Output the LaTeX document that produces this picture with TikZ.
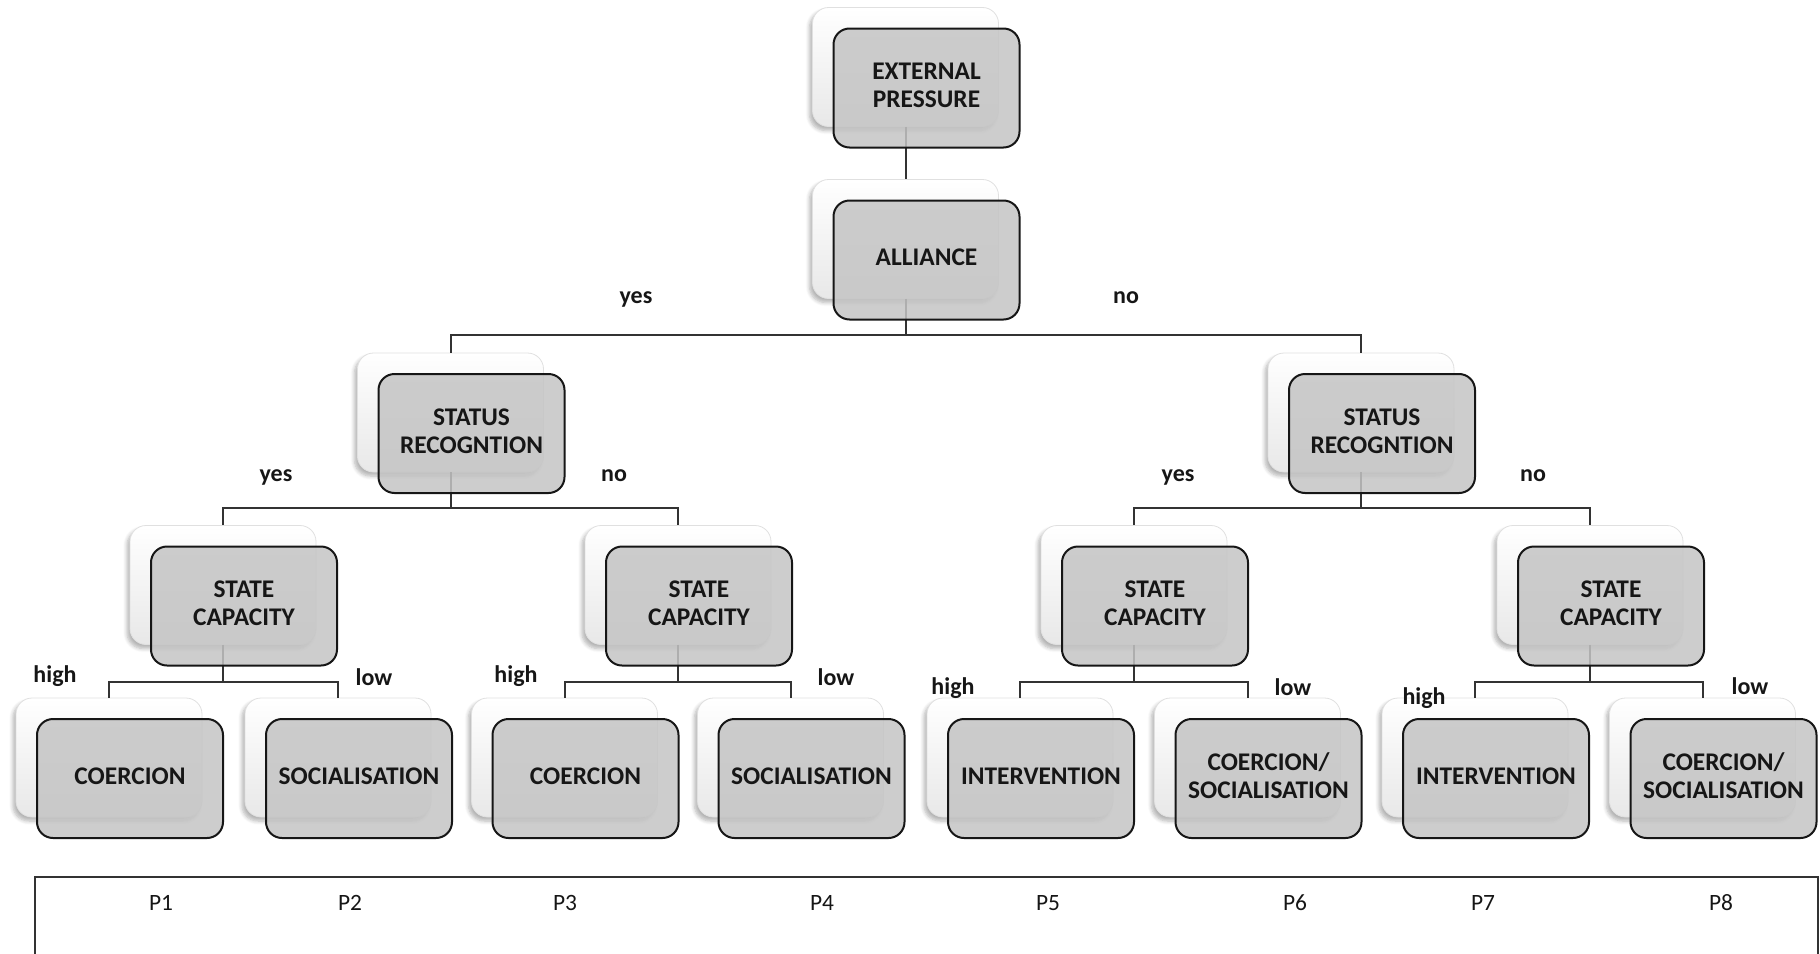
\documentclass[tikz,border=0pt]{standalone}
\usepackage{fontspec}
\setmainfont{Carlito}
\usetikzlibrary{calc,shadows.blur}

\definecolor{boxgray}{RGB}{196,196,196}
\definecolor{inkgray}{RGB}{22,22,22}

\tikzset{
  backbox/.style={draw=black!12, line width=0.4pt, rounded corners=8pt,
    top color=white, bottom color=black!9,
    minimum width=93pt, minimum height=59.5pt, inner sep=0pt,
    blur shadow={shadow xshift=-1.5pt, shadow yshift=-2pt,
      shadow opacity=30, shadow blur steps=6}},
  frontbox/.style={draw=inkgray, line width=1pt, rounded corners=8pt,
    fill=boxgray, fill opacity=0.85, text opacity=1,
    minimum width=93pt, minimum height=59.5pt, inner sep=0pt,
    align=center, text=inkgray, text depth=2.5pt,
    font=\fontsize{12.7}{14}\selectfont\bfseries},
  branch/.style={anchor=base, inner sep=0pt, text=inkgray,
    font=\fontsize{12}{14}\selectfont\bfseries},
  plabel/.style={anchor=base, inner sep=0pt, text=inkgray,
    font=\fontsize{11.7}{14}\selectfont},
  conn/.style={draw=black!80, line width=1pt},
  frame/.style={draw=black!80, line width=0.8pt, inner sep=0pt}
}

% white back card, and the grey card laid over it
\newcommand{\backcard}[3]{\node[backbox] (#1) at (#2,#3) {};}
\newcommand{\frontcard}[2]{\node[frontbox] (#1-f) at ($(#1)+(21,21)$) {#2};}

\begin{document}
\begin{tikzpicture}[x=0.5pt, y=-0.5pt]
\useasboundingbox (0,0) rectangle (1820,953);
\clip (0,0) rectangle (1820,953);

% back cards
\backcard{ext}{905.5}{67}
\backcard{all}{905.5}{239}
\backcard{sra}{450.5}{412.5}
\backcard{srb}{1361}{412.5}
\backcard{sca}{223}{585}
\backcard{scb}{678}{585}
\backcard{scc}{1134}{585}
\backcard{scd}{1590}{585}
\backcard{lfa}{109}{757.5}
\backcard{lfb}{338}{757.5}
\backcard{lfc}{564.5}{757.5}
\backcard{lfd}{790.5}{757.5}
\backcard{lfe}{1020}{757.5}
\backcard{lff}{1247.5}{757.5}
\backcard{lfg}{1475}{757.5}
\backcard{lfh}{1702.5}{757.5}

% connectors
\draw[conn] (ext.south) -- (all.north);

\coordinate (jall) at (905.5,335);
\draw[conn] (all.south) -- (jall) -| (sra.north);
\draw[conn] (jall) -| (srb.north);

\coordinate (jsra) at (450.5,508);
\draw[conn] (sra.south) -- (jsra) -| (sca.north);
\draw[conn] (jsra) -| (scb.north);
\coordinate (jsrb) at (1361,508);
\draw[conn] (srb.south) -- (jsrb) -| (scc.north);
\draw[conn] (jsrb) -| (scd.north);

\coordinate (jsca) at (223,682);
\draw[conn] (sca.south) -- (jsca) -| (lfa.north);
\draw[conn] (jsca) -| (lfb.north);
\coordinate (jscb) at (678,682);
\draw[conn] (scb.south) -- (jscb) -| (lfc.north);
\draw[conn] (jscb) -| (lfd.north);
\coordinate (jscc) at (1134,682);
\draw[conn] (scc.south) -- (jscc) -| (lfe.north);
\draw[conn] (jscc) -| (lff.north);
\coordinate (jscd) at (1590,682);
\draw[conn] (scd.south) -- (jscd) -| (lfg.north);
\draw[conn] (jscd) -| (lfh.north);

% front cards
\frontcard{ext}{EXTERNAL\\PRESSURE}
\frontcard{all}{ALLIANCE}
\frontcard{sra}{STATUS\\RECOGNTION}
\frontcard{srb}{STATUS\\RECOGNTION}
\frontcard{sca}{STATE\\CAPACITY}
\frontcard{scb}{STATE\\CAPACITY}
\frontcard{scc}{STATE\\CAPACITY}
\frontcard{scd}{STATE\\CAPACITY}
\frontcard{lfa}{COERCION}
\frontcard{lfb}{SOCIALISATION}
\frontcard{lfc}{COERCION}
\frontcard{lfd}{SOCIALISATION}
\frontcard{lfe}{INTERVENTION}
\frontcard{lff}{COERCION/\\SOCIALISATION}
\frontcard{lfg}{INTERVENTION}
\frontcard{lfh}{COERCION/\\SOCIALISATION}

% branch labels
\node[branch] (y0) at (636,303) {yes};
\node[branch] (n0) at (1126,303) {no};
\node[branch] (y1) at (276,481) {yes};
\node[branch] (n1) at (614,481) {no};
\node[branch] (y2) at (1178,481) {yes};
\node[branch] (n2) at (1533,481) {no};
\node[branch] (h1) at (55,682) {high};
\node[branch] (w1) at (374,685) {low};
\node[branch] (h2) at (516,682) {high};
\node[branch] (w2) at (836,685) {low};
\node[branch] (h3) at (953,694) {high};
\node[branch] (w3) at (1293,695) {low};
\node[branch] (h4) at (1424,704) {high};
\node[branch] (w4) at (1750,694) {low};

% pathway strip
\node[frame, anchor=north west, minimum width=891.5pt, minimum height=100pt]
  (strip) at (34,876) {};
\node[plabel] (p1) at (161,910) {P1};
\node[plabel] (p2) at (350,910) {P2};
\node[plabel] (p3) at (565,910) {P3};
\node[plabel] (p4) at (822,910) {P4};
\node[plabel] (p5) at (1048,910) {P5};
\node[plabel] (p6) at (1295,910) {P6};
\node[plabel] (p7) at (1483,910) {P7};
\node[plabel] (p8) at (1721,910) {P8};
\end{tikzpicture}
\end{document}
